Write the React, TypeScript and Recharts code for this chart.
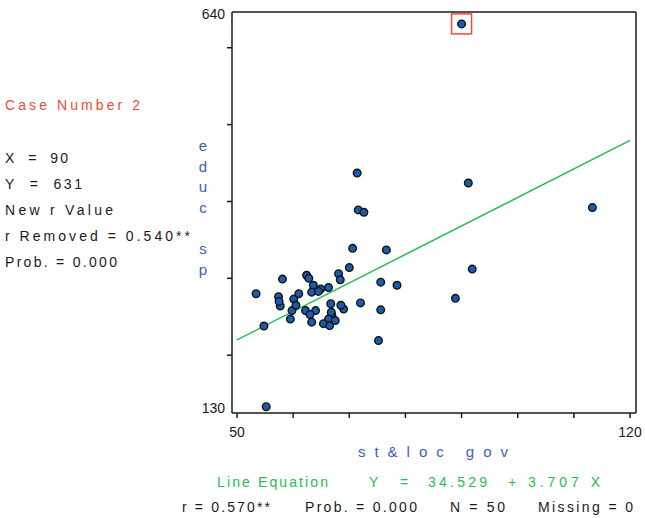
import React from "react";
import { ScatterChart, Scatter, XAxis, YAxis } from "recharts";

// st&loc gov (x) vs educ sp (y)
const stLocGov = [
  90, 91.2, 113.3, 91.9, 88.9, 71.4, 71.6, 72.6, 70.6, 76.6,
  70.0, 75.6, 78.5, 72.0, 75.6, 75.2, 55.2, 54.8, 53.4, 58.1,
  62.4, 68.1, 68.4, 63.6, 63.3, 64.9, 66.3, 57.4, 57.7, 60.1,
  61.0, 59.8, 59.5, 62.2, 64.0, 63.3, 66.7, 66.9, 66.3, 65.4,
  66.5, 67.5, 69.0, 62.8, 64.5, 66.8, 68.5, 57.5, 63.0, 60.5,
];
const educSp = [
  631, 424, 392, 312, 274, 437, 389, 386, 339, 337,
  314, 295, 291, 268, 259, 219, 133, 238, 280, 299,
  304, 306, 298, 291, 282, 286, 288, 276, 264, 273,
  280, 258, 247, 258, 258, 243, 267, 252, 247, 241,
  238.5, 245, 260, 300, 283, 256, 265, 270, 253, 265,
];

// highlighted case (Case Number 2)
const caseX = [90];
const caseY = [631];

// fitted line end points: Y = 34.529 + 3.707 X
const fitX = [50, 120];
const fitY = [219.9, 479.4];

const xTicks = [50, 60, 70, 80, 90, 100, 110, 120];
const yTicks = [130, 200, 300, 400, 500, 600, 640];
const yLabelTicks = [130, 640];

const points = stLocGov.map((x, i) => ({ x, y: educSp[i] }));
const casePoints = caseX.map((x, i) => ({ x, y: caseY[i] }));
const fitPoints = fitX.map((x, i) => ({ x, y: fitY[i] }));

const FONT = '"Liberation Sans", Arial, sans-serif';
const INK = "#1a1a1a";
const RED = "#f04a38";
const BLUE = "#3d5fb8";
const GREEN = "#27bb52";

const X_PAD = { left: 5, right: 6 };
const Y_PAD = { top: 5, bottom: 4 };

function Dot({ cx, cy }: any) {
  return <circle cx={cx} cy={cy} r={3.8} fill="#1a5ca8" stroke="#111" strokeWidth={1.4} />;
}

function CaseBox({ cx, cy }: any) {
  return <rect x={cx - 10} y={cy - 10} width={20} height={20} fill="none" stroke={RED} strokeWidth={1.5} />;
}

function NoDot() {
  return <g />;
}

function YTick({ x, y, payload }: any) {
  if (yLabelTicks.includes(payload.value)) {
    return (
      <text
        x={x}
        y={y + (payload.value === 640 ? -3 : -1)}
        dy="0.35em"
        textAnchor="end"
        fill={INK}
        fontSize={14}
        fontFamily={FONT}
      >
        {payload.value}
      </text>
    );
  }
  return <line x1={x + 2} x2={x + 7} y1={y} y2={y} stroke={INK} strokeWidth={1.5} />;
}

function T({ x, y, w, color = INK, size = 14, children }: any) {
  return (
    <text
      x={x}
      y={y}
      textLength={w}
      lengthAdjust="spacing"
      fill={color}
      fontSize={size}
      fontFamily={FONT}
      style={{ whiteSpace: "pre" }}
    >
      {children}
    </text>
  );
}

const yTitle = "educ sp";

export default function App() {
  return (
    <div style={{ position: "absolute", left: 0, top: 0, width: 645, height: 518, background: "#fff" }}>
      <ScatterChart width={645} height={518} margin={{ top: 11, right: 8, left: 192, bottom: 75 }}>
        <XAxis
          dataKey="x"
          type="number"
          domain={[50, 120]}
          ticks={xTicks}
          interval={0}
          padding={X_PAD}
          height={30}
          tickSize={5}
          tickMargin={9}
          tickFormatter={(v) => (v === 50 || v === 120 ? String(v) : "")}
          tick={{ fill: INK, fontSize: 14, fontFamily: FONT }}
          axisLine={{ stroke: INK, strokeWidth: 1.5 }}
          tickLine={{ stroke: INK, strokeWidth: 1.5 }}
        />
        <XAxis
          xAxisId="top"
          orientation="top"
          dataKey="x"
          type="number"
          domain={[50, 120]}
          padding={X_PAD}
          height={1}
          tick={false}
          tickLine={false}
          axisLine={{ stroke: INK, strokeWidth: 1.5 }}
        />
        <YAxis
          dataKey="y"
          type="number"
          domain={[130, 640]}
          ticks={yTicks}
          interval={0}
          padding={Y_PAD}
          width={40}
          tickSize={5}
          tickMargin={2}
          tick={<YTick />}
          tickLine={false}
          axisLine={{ stroke: INK, strokeWidth: 1.5 }}
        />
        <YAxis
          yAxisId="right"
          orientation="right"
          dataKey="y"
          type="number"
          domain={[130, 640]}
          padding={Y_PAD}
          width={1}
          tick={false}
          tickLine={false}
          axisLine={{ stroke: INK, strokeWidth: 1.5 }}
        />
        <Scatter
          data={fitPoints}
          line={{ stroke: GREEN, strokeWidth: 1.5 }}
          shape={<NoDot />}
          isAnimationActive={false}
        />
        <Scatter data={points} shape={<Dot />} isAnimationActive={false} />
        <Scatter
          data={casePoints}
          xAxisId="top"
          yAxisId="right"
          shape={<CaseBox />}
          isAnimationActive={false}
        />
      </ScatterChart>

      <svg
        width={645}
        height={518}
        style={{ position: "absolute", left: 0, top: 0, pointerEvents: "none" }}
      >
        <T x={5} y={110} w={135} color={RED}>Case Number 2</T>
        <T x={5} y={163} w={63}>{"X  =  90"}</T>
        <T x={5} y={189} w={77}>{"Y  =  631"}</T>
        <T x={5} y={215} w={108}>New r Value</T>
        <T x={5} y={241} w={185}>r Removed = 0.540**</T>
        <T x={5} y={267} w={112}>Prob. = 0.000</T>

        {yTitle.split("").map((ch, i) => (
          <text
            key={i}
            x={203}
            y={151 + i * 20.6}
            textAnchor="middle"
            fill={BLUE}
            fontSize={15}
            fontFamily={FONT}
          >
            {ch}
          </text>
        ))}

        <T x={358} y={457} w={150} color={BLUE} size={15}>{"st&loc gov"}</T>

        <T x={217} y={487} w={111} color={GREEN}>Line Equation</T>
        <T x={369} y={487} w={13} color={GREEN}>Y</T>
        <T x={400} y={487} w={9} color={GREEN}>=</T>
        <T x={428} y={487} w={59} color={GREEN}>34.529</T>
        <T x={508} y={487} w={9} color={GREEN}>+</T>
        <T x={528} y={487} w={72} color={GREEN}>3.707 X</T>

        <T x={182} y={512} w={88}>r = 0.570**</T>
        <T x={305} y={512} w={112}>Prob. = 0.000</T>
        <T x={450} y={512} w={55}>N = 50</T>
        <T x={538} y={512} w={95}>Missing = 0</T>
      </svg>
    </div>
  );
}
